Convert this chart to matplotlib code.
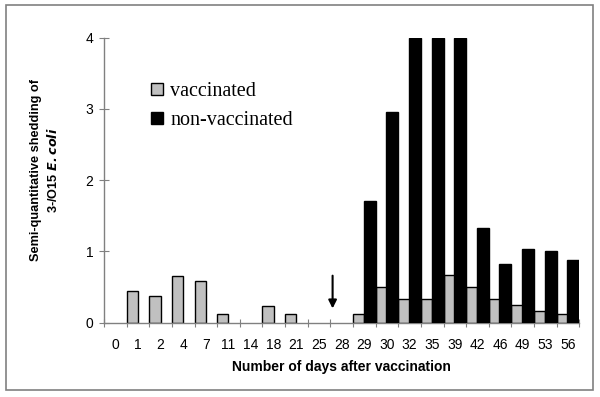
import numpy as np
import matplotlib.pyplot as plt
from matplotlib.patches import Rectangle

plt.rcParams['font.family'] = ['Liberation Sans', 'DejaVu Sans']

# days after vaccination (categorical x axis)
days = ['0', '1', '2', '4', '7', '11', '14', '18', '21', '25', '28',
        '29', '30', '32', '35', '39', '42', '46', '49', '53', '56']
vaccinated = [0, 0.45, 0.37, 0.66, 0.58, 0.12, 0, 0.24, 0.12, 0, 0,
              0.12, 0.5, 0.33, 0.33, 0.67, 0.5, 0.33, 0.25, 0.17, 0.12]
non_vaccinated = [0, 0, 0, 0, 0, 0, 0, 0, 0, 0, 0,
                  1.71, 2.96, 4, 4, 4, 1.33, 0.83, 1.04, 1.0, 0.88]
arrow_day = '28'

W, H = 600, 397
fig = plt.figure(figsize=(W / 100, H / 100), dpi=100)
ax = fig.add_axes([104 / W, 74.3 / H, 475.3 / W, 285 / H])

x = np.arange(len(days))
vac = np.array(vaccinated)
nonv = np.array(non_vaccinated)

m = vac > 0
ax.bar(x[m], vac[m], width=0.5, align='edge', color='#c0c0c0',
       edgecolor='black', linewidth=1, label='vaccinated', zorder=2)
m2 = nonv > 0
ax.bar(x[m2] + 0.47, nonv[m2], width=0.53, align='edge', color='black',
       edgecolor='black', linewidth=1, label='non-vaccinated', zorder=3)

# arrow marking the challenge day
xa = days.index(arrow_day) + 0.1
ax.annotate('', xy=(xa, 0.2), xytext=(xa, 0.66),
            arrowprops=dict(arrowstyle='-|>', color='black', lw=1.5,
                            mutation_scale=12, shrinkA=0, shrinkB=0))

ax.set_xlim(0, len(days))
ax.set_ylim(0, 4)
for s in ['top', 'right']:
    ax.spines[s].set_visible(False)
for s in ['left', 'bottom']:
    ax.spines[s].set_color('#808080')
    ax.spines[s].set_linewidth(1)

ax.set_xticks(np.arange(len(days) + 1))
ax.set_xticklabels([])
ax.set_xticks(x + 0.5, minor=True)
ax.set_xticklabels(days, minor=True, fontsize=10)
ax.tick_params(axis='x', which='major', direction='inout', length=6,
               color='#808080')
ax.tick_params(axis='x', which='minor', length=0, pad=11)
ax.set_yticks([0, 1, 2, 3, 4])
ax.tick_params(axis='y', direction='inout', length=7, color='#808080',
               labelsize=10, pad=4)

ax.legend(loc='upper left', bbox_to_anchor=(151 / W, 1 - 82 / H),
          bbox_transform=fig.transFigure, frameon=False, borderpad=0,
          borderaxespad=0, handlelength=0.6, handleheight=0.6,
          handletextpad=0.35, labelspacing=0.5,
          prop={'family': 'Liberation Serif', 'size': 14.5})

fig.text(341 / W, 1 - 367 / H, 'Number of days after vaccination',
         ha='center', va='center', fontsize=10, fontweight='bold')
fig.text(45 / W, 1 - 170 / H,
         'Semi-quantitative shedding of\n3-/O15 $\\mathbfit{E. coli}$',
         ha='center', va='center', rotation=90, fontsize=9.2,
         fontweight='bold', linespacing=1.4)

# outer frame
fig.patches.append(Rectangle((6 / W, 1 - 390 / H), 587 / W, 385 / H,
                             transform=fig.transFigure, fill=False,
                             edgecolor='#808080', linewidth=1.2))

fig.savefig('out.png', dpi=100)
